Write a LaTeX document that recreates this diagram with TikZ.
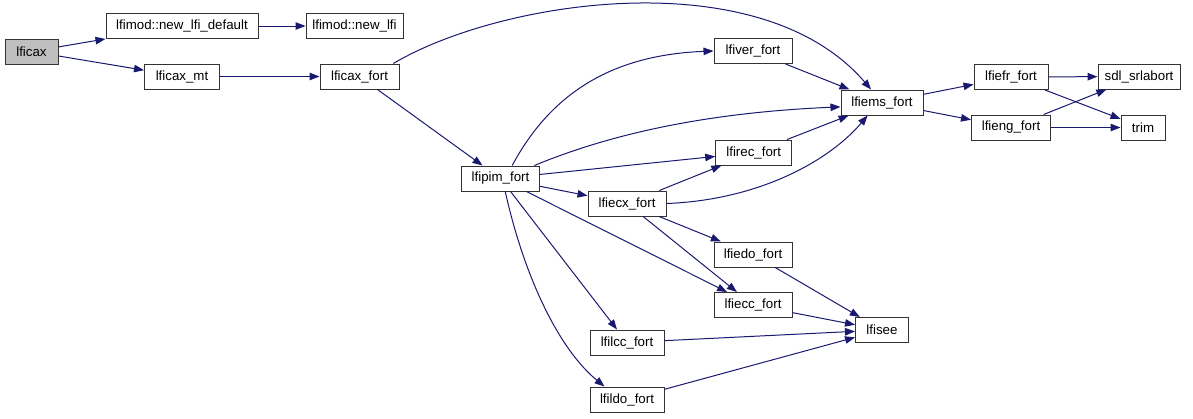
\documentclass[tikz,border=0pt]{standalone}
\usepackage{fontspec}
\setmainfont{Liberation Sans}
\usetikzlibrary{arrows.meta}
\definecolor{edgecol}{RGB}{25,25,112}
\definecolor{boxgray}{RGB}{191,191,191}
\tikzset{
  box/.style={draw=black!80, line width=1pt, fill=white, inner sep=0pt,
    minimum height=25pt, font=\fontsize{13.3}{15}\selectfont},
  edge/.style={draw=edgecol, line width=1pt, -{Triangle[length=10pt,width=7.5pt]}},
}
\begin{document}
\begin{tikzpicture}[x=1pt,y=-1pt]
\useasboundingbox (0,0) rectangle (1193,418);
\node[box, fill=boxgray, minimum width=53pt] (lficax) at (31.5,51.5) {lficax};
\node[box, minimum width=152pt] (newdef) at (182,26) {lfimod::new\_lfi\_default};
\node[box, minimum width=97pt] (newlfi) at (354.5,26) {lfimod::new\_lfi};
\node[box, minimum width=75pt] (mt) at (182,76.5) {lficax\_mt};
\node[box, minimum width=79pt] (cfort) at (359.5,76.5) {lficax\_fort};
\node[box, minimum width=78pt] (pim) at (500.5,178.5) {lfipim\_fort};
\node[box, minimum width=78pt] (ver) at (753,51) {lfiver\_fort};
\node[box, minimum width=76pt] (rec) at (753.7,152.5) {lfirec\_fort};
\node[box, minimum width=78pt] (ecx) at (627,203.5) {lfiecx\_fort};
\node[box, minimum width=78pt] (edo) at (753,254.5) {lfiedo\_fort};
\node[box, minimum width=78pt] (ecc) at (753,305) {lfiecc\_fort};
\node[box, minimum width=53pt] (see) at (882,330) {lfisee};
\node[box, minimum width=74pt] (lcc) at (627,342.5) {lfilcc\_fort};
\node[box, minimum width=74pt] (ldo) at (627,399.5) {lfildo\_fort};
\node[box, minimum width=82pt] (ems) at (882,102.5) {lfiems\_fort};
\node[box, minimum width=74pt] (efr) at (1011,77) {lfiefr\_fort};
\node[box, minimum width=79pt] (eng) at (1011,127.5) {lfieng\_fort};
\node[box, minimum width=82pt] (sdl) at (1139,76.5) {sdl\_srlabort};
\node[box, minimum width=44pt] (trim) at (1143,127.5) {trim};

\draw[edge] (lficax) -- (newdef);
\draw[edge] (lficax) -- (mt);
\draw[edge] (newdef) -- (newlfi);
\draw[edge] (mt) -- (cfort);
\draw[edge] (cfort.21) .. controls (500,0) and (760,-40) .. (ems.130);
\draw[edge] (cfort) -- (pim);
\draw[edge] (pim.48) .. controls (550,95) and (610,55) .. (ver.west);
\draw[edge] (pim.21) .. controls (620,130) and (720,112) .. (ems.186);
\draw[edge] (pim) -- (rec);
\draw[edge] (pim) -- (ecx);
\draw[edge] (pim) -- (ecc);
\draw[edge] (pim) -- (lcc);
\draw[edge] (pim.-70) .. controls (525,280) and (560,350) .. (ldo.150);
\draw[edge] (ver) -- (ems);
\draw[edge] (rec) -- (ems);
\draw[edge] (ecx) -- (rec);
\draw[edge] (ecx.east) .. controls (760,200) and (830,160) .. (ems.222);
\draw[edge] (ecx) -- (edo);
\draw[edge] (ecx) -- (ecc);
\draw[edge] (edo) -- (see);
\draw[edge] (ecc) -- (see);
\draw[edge] (lcc) -- (see);
\draw[edge] (ldo) -- (see);
\draw[edge] (ems) -- (efr);
\draw[edge] (ems) -- (eng);
\draw[edge] (efr) -- (sdl);
\draw[edge] (efr) -- (trim);
\draw[edge] (eng) -- (sdl);
\draw[edge] (eng) -- (trim);
\end{tikzpicture}
\end{document}
